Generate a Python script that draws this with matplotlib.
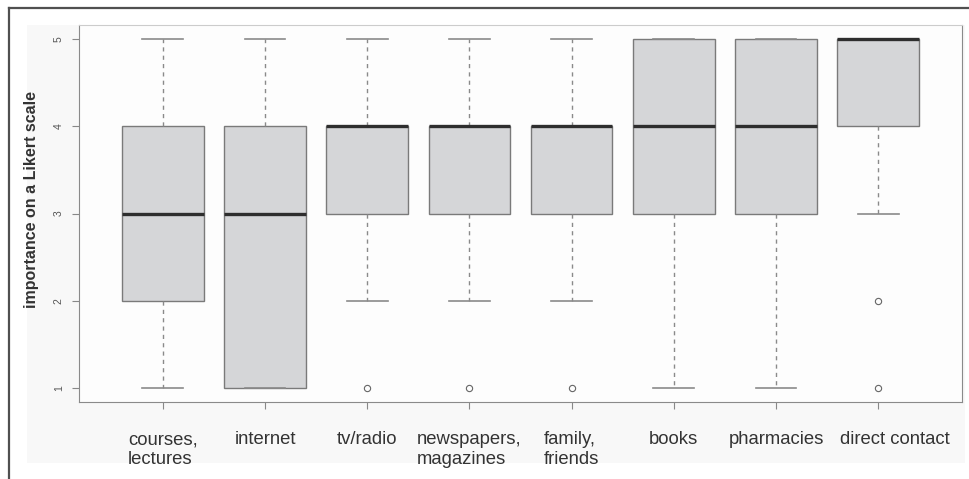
import matplotlib.pyplot as plt
import matplotlib.transforms as mtransforms
from matplotlib.patches import Rectangle
from matplotlib.lines import Line2D

plt.rcParams['font.family'] = ['Liberation Sans', 'DejaVu Sans']

sources = ['courses,\nlectures', 'internet', 'tv/radio', 'newspapers,\nmagazines',
           'family,\nfriends', 'books', 'pharmacies', 'direct contact']
whisker_low = [1, 1, 2, 2, 2, 1, 1, 3]
q1 = [2, 1, 3, 3, 3, 3, 3, 4]
medians = [3, 3, 4, 4, 4, 4, 4, 5]
q3 = [4, 4, 4, 4, 4, 5, 5, 5]
whisker_high = [5, 5, 5, 5, 5, 5, 5, 5]
outliers = [[], [], [1], [1], [1], [], [], [2, 1]]

stats = []
for i in range(len(sources)):
    stats.append({'whislo': whisker_low[i], 'q1': q1[i], 'med': medians[i],
                  'q3': q3[i], 'whishi': whisker_high[i], 'fliers': outliers[i]})

fig = plt.figure(figsize=(9.69, 4.79), dpi=100, facecolor='white')

# light panel and frame lines around the plot
fig.patches.append(Rectangle((27 / 969, 1 - 463 / 479), 938 / 969, 438 / 479,
                             transform=fig.transFigure, facecolor='#f8f8f8',
                             edgecolor='none', zorder=-5))
fig.lines.append(Line2D([9 / 969, 1], [1 - 8 / 479, 1 - 8 / 479],
                        transform=fig.transFigure, color='#505050', lw=1.6))
fig.lines.append(Line2D([9 / 969, 9 / 969], [0, 1 - 8 / 479],
                        transform=fig.transFigure, color='#505050', lw=1.6))

ax = fig.add_axes([79 / 969, 1 - 402 / 479, 883 / 969, 377 / 479])
ax.set_facecolor('#fdfdfd')

ax.bxp(stats, positions=range(1, 9), widths=0.8, patch_artist=True,
       boxprops=dict(facecolor='#d5d6d8', edgecolor='#7a7a7a', lw=1.0),
       medianprops=dict(color='#2e2e2e', lw=2.4, solid_capstyle='butt'),
       whiskerprops=dict(color='#8a8a8a', lw=1.0, linestyle=(0, (3, 3))),
       capprops=dict(color='#8a8a8a', lw=1.2),
       capwidths=0.4,
       flierprops=dict(marker='o', markersize=4.5, markerfacecolor='none',
                       markeredgecolor='#666666', markeredgewidth=0.8))

ax.set_xlim(0.18, 8.82)
ax.set_ylim(0.84, 5.16)
ax.set_yticks([1, 2, 3, 4, 5])
ax.set_yticklabels(['1', '2', '3', '4', '5'], rotation=90, va='center',
                   fontsize=7.5, color='#555555')
ax.set_xticks(range(1, 9))
ax.set_xticklabels(sources, fontsize=13.3, color='#333333', va='top',
                   ha='center', multialignment='left', linespacing=1.2)
ax.tick_params(axis='y', length=5, color='#888888', pad=6)
ax.tick_params(axis='x', length=5, color='#888888', pad=16)

# nudge the last label right so it doesn't run into "pharmacies"
last = ax.get_xticklabels()[-1]
last.set_transform(last.get_transform() +
                   mtransforms.ScaledTranslation(0.17, 0, fig.dpi_scale_trans))

for side in ['left', 'bottom', 'right']:
    ax.spines[side].set_color('#8a8a8a')
ax.spines['top'].set_color('#cccccc')

fig.text(32 / 969, 1 - 200 / 479, 'importance on a Likert scale', rotation=90,
         ha='center', va='center', fontsize=11.5, fontweight='bold',
         color='#333333')

fig.savefig('out.png', dpi=100)
